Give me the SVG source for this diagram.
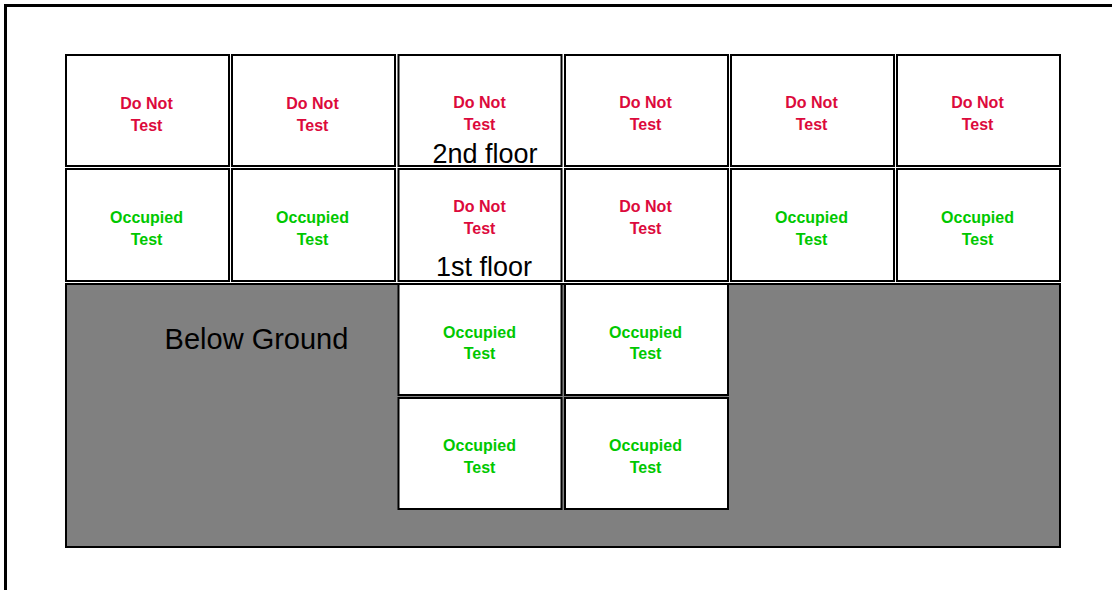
<svg xmlns="http://www.w3.org/2000/svg" width="1112" height="590" viewBox="0 0 1112 590">
<style>
.cell{fill:#fff;stroke:#000;stroke-width:2}
.t{font-family:"Liberation Sans",Arial,sans-serif;font-weight:bold;font-size:16px;text-anchor:middle}
.red{fill:#DC0A3C}
.grn{fill:#00C800}
.lbl{font-family:"Liberation Sans",Arial,sans-serif;font-size:27px;fill:#000;text-anchor:middle}
</style>
<rect x="0" y="0" width="1112" height="590" fill="#fff"/>
<rect x="5.5" y="5.5" width="1200" height="700" fill="none" stroke="#000" stroke-width="3"/>
<g id="below-ground">
<rect x="66" y="284" width="994" height="263" fill="#808080" stroke="#000" stroke-width="2"/>
<text class="lbl" x="256.5" y="349" style="font-size:29px">Below Ground</text>
</g>
<g id="r1c1"><rect class="cell" x="66" y="55" width="163" height="111"/><text class="t red" x="146.5" y="109">Do Not</text><text class="t red" x="146.5" y="131">Test</text></g>
<g id="r1c2"><rect class="cell" x="232" y="55" width="163" height="111"/><text class="t red" x="312.5" y="109">Do Not</text><text class="t red" x="312.5" y="131">Test</text></g>
<g id="r1c3"><rect class="cell" x="398.5" y="55" width="163" height="111"/><text class="t red" x="479.5" y="108">Do Not</text><text class="t red" x="479.5" y="130">Test</text><text class="lbl" x="485" y="163">2nd floor</text></g>
<g id="r1c4"><rect class="cell" x="565" y="55" width="163" height="111"/><text class="t red" x="645.5" y="108">Do Not</text><text class="t red" x="645.5" y="130">Test</text></g>
<g id="r1c5"><rect class="cell" x="731" y="55" width="163" height="111"/><text class="t red" x="811.5" y="108">Do Not</text><text class="t red" x="811.5" y="130">Test</text></g>
<g id="r1c6"><rect class="cell" x="897" y="55" width="163" height="111"/><text class="t red" x="977.5" y="108">Do Not</text><text class="t red" x="977.5" y="130">Test</text></g>
<g id="r2c1"><rect class="cell" x="66" y="169" width="163" height="112"/><text class="t grn" x="146.5" y="223">Occupied</text><text class="t grn" x="146.5" y="245">Test</text></g>
<g id="r2c2"><rect class="cell" x="232" y="169" width="163" height="112"/><text class="t grn" x="312.5" y="223">Occupied</text><text class="t grn" x="312.5" y="245">Test</text></g>
<g id="r2c3"><rect class="cell" x="398.5" y="169" width="163" height="112"/><text class="t red" x="479.5" y="212">Do Not</text><text class="t red" x="479.5" y="234">Test</text><text class="lbl" x="484" y="276">1st floor</text></g>
<g id="r2c4"><rect class="cell" x="565" y="169" width="163" height="112"/><text class="t red" x="645.5" y="212">Do Not</text><text class="t red" x="645.5" y="234">Test</text></g>
<g id="r2c5"><rect class="cell" x="731" y="169" width="163" height="112"/><text class="t grn" x="811.5" y="223">Occupied</text><text class="t grn" x="811.5" y="245">Test</text></g>
<g id="r2c6"><rect class="cell" x="897" y="169" width="163" height="112"/><text class="t grn" x="977.5" y="223">Occupied</text><text class="t grn" x="977.5" y="245">Test</text></g>
<g id="b1c3"><rect class="cell" x="398.5" y="284" width="163" height="111"/><text class="t grn" x="479.5" y="338">Occupied</text><text class="t grn" x="479.5" y="359">Test</text></g>
<g id="b1c4"><rect class="cell" x="565" y="284" width="163" height="111"/><text class="t grn" x="645.5" y="338">Occupied</text><text class="t grn" x="645.5" y="359">Test</text></g>
<g id="b2c3"><rect class="cell" x="398.5" y="398" width="163" height="111"/><text class="t grn" x="479.5" y="451">Occupied</text><text class="t grn" x="479.5" y="473">Test</text></g>
<g id="b2c4"><rect class="cell" x="565" y="398" width="163" height="111"/><text class="t grn" x="645.5" y="451">Occupied</text><text class="t grn" x="645.5" y="473">Test</text></g>
<g id="connectors"></g>
</svg>
